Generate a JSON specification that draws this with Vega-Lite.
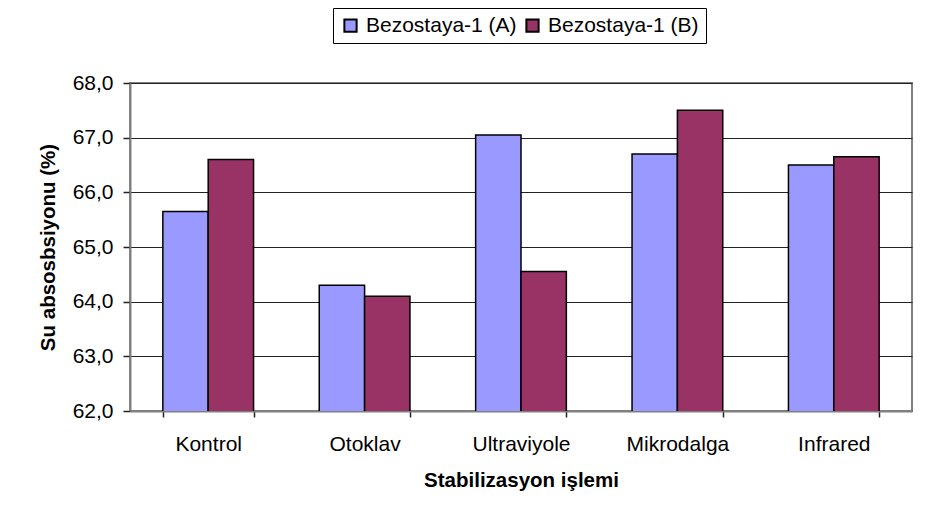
{
  "$schema": "https://vega.github.io/schema/vega-lite/v6.json",
  "width": 782,
  "height": 328,
  "autosize": {"type": "none"},
  "padding": {"left": 130, "top": 83, "right": 13, "bottom": 111},
  "background": "white",
  "data": {
    "values": [
      {"islem": "Kontrol", "seri": "Bezostaya-1 (A)", "deger": 65.65},
      {"islem": "Kontrol", "seri": "Bezostaya-1 (B)", "deger": 66.6},
      {"islem": "Otoklav", "seri": "Bezostaya-1 (A)", "deger": 64.3},
      {"islem": "Otoklav", "seri": "Bezostaya-1 (B)", "deger": 64.1},
      {"islem": "Ultraviyole", "seri": "Bezostaya-1 (A)", "deger": 67.05},
      {"islem": "Ultraviyole", "seri": "Bezostaya-1 (B)", "deger": 64.55},
      {"islem": "Mikrodalga", "seri": "Bezostaya-1 (A)", "deger": 66.7},
      {"islem": "Mikrodalga", "seri": "Bezostaya-1 (B)", "deger": 67.5},
      {"islem": "Infrared", "seri": "Bezostaya-1 (A)", "deger": 66.5},
      {"islem": "Infrared", "seri": "Bezostaya-1 (B)", "deger": 66.65}
    ]
  },
  "mark": {"type": "bar", "stroke": "black", "strokeWidth": 1.5, "clip": true},
  "encoding": {
    "x": {
      "field": "islem",
      "type": "nominal",
      "sort": null,
      "scale": {"paddingInner": 0.42, "paddingOuter": 0.21},
      "axis": {
        "title": "Stabilizasyon işlemi",
        "labelAngle": 0,
        "tickBand": "extent",
        "grid": false,
        "tickSize": 6,
        "labelPadding": 16,
        "titlePadding": 16
      }
    },
    "xOffset": {"field": "seri", "type": "nominal"},
    "y": {
      "field": "deger",
      "type": "quantitative",
      "scale": {"domain": [62, 68], "zero": false, "nice": false},
      "axis": {
        "title": "Su absosbsiyonu (%)",
        "values": [62, 63, 64, 65, 66, 67, 68],
        "labelExpr": "replace(format(datum.value, '.1f'), '.', ',')",
        "grid": true,
        "gridColor": "#222222",
        "gridWidth": 1,
        "tickSize": 7,
        "labelPadding": 10,
        "titlePadding": 14
      }
    },
    "color": {
      "field": "seri",
      "type": "nominal",
      "scale": {"range": ["#9999FF", "#993366"]},
      "legend": {
        "title": null,
        "orient": "none",
        "direction": "horizontal",
        "legendX": 203,
        "legendY": -75,
        "symbolType": "square",
        "symbolSize": 150,
        "symbolStrokeColor": "black",
        "symbolStrokeWidth": 2,
        "symbolOpacity": 1,
        "strokeColor": "black",
        "padding": 7,
        "columnPadding": 5,
        "labelOffset": 5,
        "labelFontSize": 21,
        "labelFont": "Liberation Sans",
        "labelColor": "black"
      }
    }
  },
  "config": {
    "view": {"stroke": "#808080", "strokeWidth": 2},
    "axis": {
      "labelFont": "Liberation Sans",
      "labelFontSize": 21,
      "labelColor": "black",
      "titleFont": "Liberation Sans",
      "titleFontSize": 20.5,
      "titleFontWeight": "bold",
      "titleColor": "black",
      "domainColor": "#808080",
      "domainWidth": 2,
      "tickColor": "#222222",
      "tickWidth": 1.5
    }
  }
}
